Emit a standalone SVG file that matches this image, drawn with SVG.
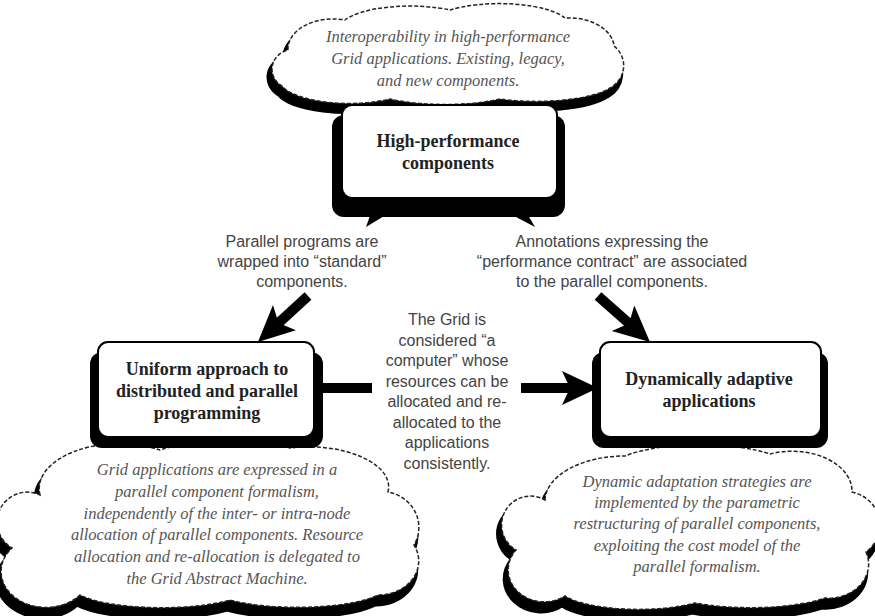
<svg xmlns="http://www.w3.org/2000/svg" xmlns:xlink="http://www.w3.org/1999/xlink" width="875" height="616" viewBox="0 0 875 616">
<style>
.ct{font-family:"Liberation Serif",serif;font-style:italic;font-size:16.5px;fill:#555;text-anchor:middle}
.bt{font-family:"Liberation Serif",serif;font-weight:bold;font-size:18px;fill:#222;text-anchor:middle}
.lt{font-family:"Liberation Sans",sans-serif;font-size:16px;fill:#444;text-anchor:middle}
.shadow{fill:#000;stroke:#000;stroke-width:5}
.cloud{fill:#fff;stroke:#222;stroke-width:1.5;stroke-dasharray:4 2}
.boxsh{fill:#000}
.box{fill:#fff;stroke:#000;stroke-width:2}
.conn{stroke:#000;stroke-width:10;fill:none}
</style>
<defs>
<marker id="ah" markerUnits="userSpaceOnUse" markerWidth="38" markerHeight="36" refX="18" refY="17" orient="auto" viewBox="0 0 38 36">
<path d="M0,0 L36,17 L0,34 L8,17 Z" fill="#000"/>
</marker>
<path id="c-top" d="M288,50 A45,30 0 0 1 345,20 A70,22 0 0 1 450,10 A70,22 0 0 1 565,18 A45,30 0 0 1 614,46 A28,26 0 0 1 610,88 A80,22 0 0 1 500,99 A80,20 0 0 1 390,99 A70,24 0 0 1 282,86 A22,20 0 0 1 288,50 Z"/>
<path id="c-bl" d="M40,495 A80,45 0 0 1 160,450 A90,25 0 0 1 290,448 A80,40 0 0 1 388,492 A38,36 0 0 1 414,545 A40,34 0 0 1 378,595 A90,22 0 0 1 230,600 A90,22 0 0 1 80,595 A40,32 0 0 1 12,548 A30,30 0 0 1 40,495 Z"/>
<path id="c-br" d="M545,500 A80,45 0 0 1 625,456 A90,25 0 0 1 770,454 A60,40 0 0 1 852,492 A36,34 0 0 1 866,552 A40,34 0 0 1 825,598 A90,22 0 0 1 695,603 A80,22 0 0 1 565,596 A36,32 0 0 1 516,550 A28,28 0 0 1 545,500 Z"/>
</defs>
<rect width="875" height="616" fill="#fff"/>

<g id="cloud-top">
<use xlink:href="#c-top" class="shadow" transform="translate(-3,8)"/>
<use xlink:href="#c-top" class="cloud"/>
<text class="ct" x="448" y="42">Interoperability in high-performance</text>
<text class="ct" x="448" y="64">Grid applications. Existing, legacy,</text>
<text class="ct" x="448" y="86">and new components.</text>
</g>

<g id="node-top">
<rect class="boxsh" x="332" y="115" width="233" height="102" rx="12"/>
<polygon points="372,210 394,210 366,227" fill="#000"/>
<polygon points="503,210 525,210 535,227" fill="#000"/>
<rect class="box" x="342" y="105" width="215" height="93" rx="10"/>
<text class="bt" x="448" y="147">High-performance</text>
<text class="bt" x="448" y="169">components</text>
</g>

<g id="cloud-bl">
<use xlink:href="#c-bl" class="shadow" transform="translate(-3,9)"/>
<use xlink:href="#c-bl" class="cloud"/>
<text class="ct" x="217" y="475">Grid applications are expressed in a</text>
<text class="ct" x="217" y="497">parallel component formalism,</text>
<text class="ct" x="217" y="519">independently of the inter- or intra-node</text>
<text class="ct" x="217" y="540">allocation of parallel components. Resource</text>
<text class="ct" x="217" y="562">allocation and re-allocation is delegated to</text>
<text class="ct" x="217" y="584">the Grid Abstract Machine.</text>
</g>

<g id="cloud-br">
<use xlink:href="#c-br" class="shadow" transform="translate(-3,9)"/>
<use xlink:href="#c-br" class="cloud"/>
<text class="ct" x="697" y="487">Dynamic adaptation strategies are</text>
<text class="ct" x="697" y="508">implemented by the parametric</text>
<text class="ct" x="697" y="529">restructuring of parallel components,</text>
<text class="ct" x="697" y="551">exploiting the cost model of the</text>
<text class="ct" x="697" y="572">parallel formalism.</text>
</g>

<g id="node-left">
<rect class="boxsh" x="90" y="352" width="233" height="96" rx="12"/>
<rect class="box" x="98" y="342" width="216" height="95" rx="10"/>
<text class="bt" x="207" y="375">Uniform approach to</text>
<text class="bt" x="207" y="397">distributed and parallel</text>
<text class="bt" x="207" y="419">programming</text>
</g>

<g id="node-right">
<rect class="boxsh" x="592" y="352" width="236" height="96" rx="12"/>
<rect class="box" x="600" y="342" width="221" height="95" rx="10"/>
<text class="bt" x="709" y="385">Dynamically adaptive</text>
<text class="bt" x="709" y="407">applications</text>
</g>

<g id="connectors">
<line class="conn" x1="308" y1="296" x2="271.2" y2="329.8" marker-end="url(#ah)"/>
<line class="conn" x1="598" y1="296" x2="636.5" y2="330.1" marker-end="url(#ah)"/>
<line class="conn" x1="322" y1="388" x2="372" y2="388"/>
<line class="conn" x1="521" y1="388" x2="580" y2="388" marker-end="url(#ah)"/>
</g>

<g id="label-left">
<text class="lt" x="302" y="247">Parallel programs are</text>
<text class="lt" x="302" y="267">wrapped into “standard”</text>
<text class="lt" x="302" y="287">components.</text>
</g>
<g id="label-right">
<text class="lt" x="612" y="247">Annotations expressing the</text>
<text class="lt" x="612" y="267">“performance contract” are associated</text>
<text class="lt" x="612" y="287">to the parallel components.</text>
</g>
<g id="label-center">
<text class="lt" x="447" y="325">The Grid is</text>
<text class="lt" x="447" y="346">considered “a</text>
<text class="lt" x="447" y="366">computer” whose</text>
<text class="lt" x="447" y="387">resources can be</text>
<text class="lt" x="447" y="407">allocated and re-</text>
<text class="lt" x="447" y="428">allocated to the</text>
<text class="lt" x="447" y="448">applications</text>
<text class="lt" x="447" y="469">consistently.</text>
</g>
</svg>
